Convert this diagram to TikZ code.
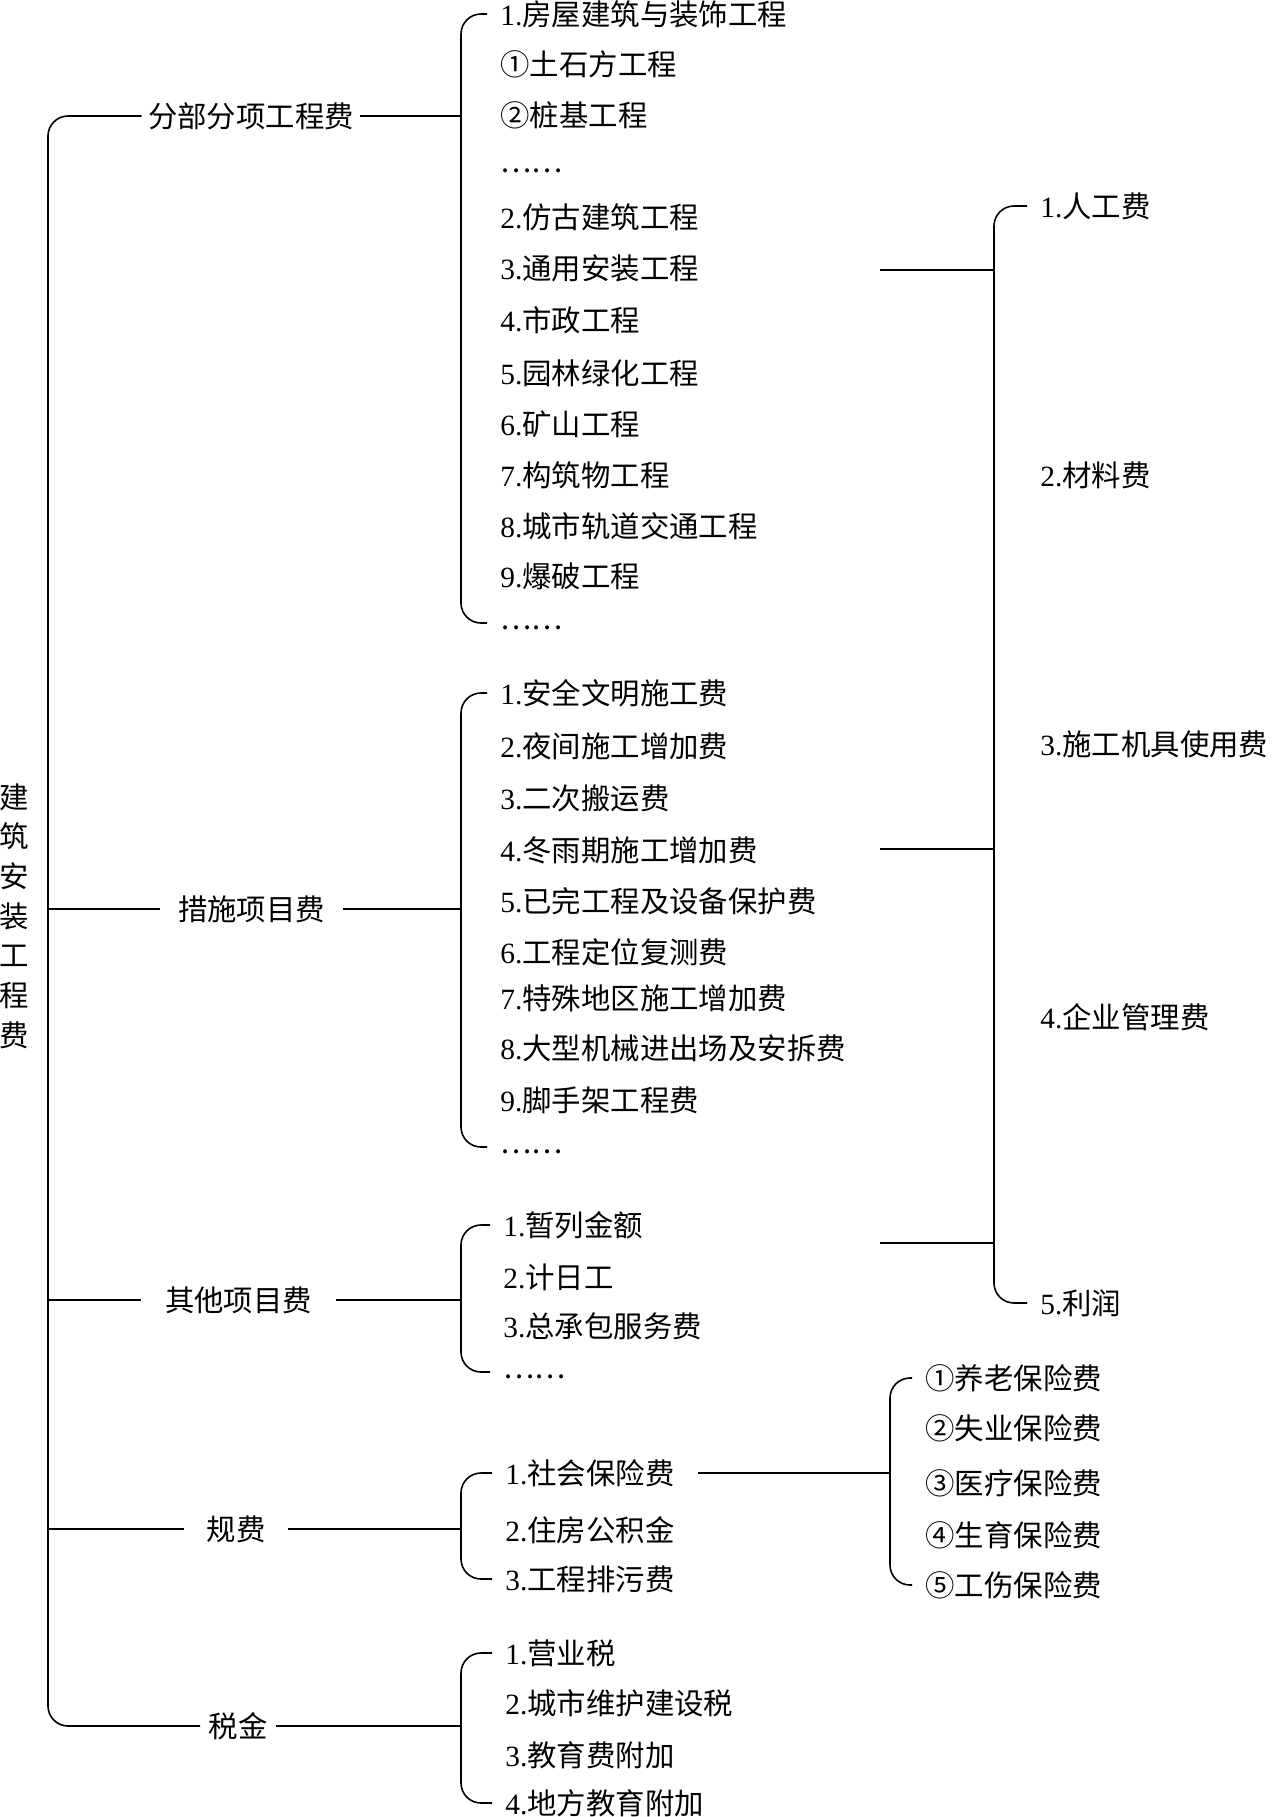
\documentclass[tikz,border=0pt]{standalone}
\usepackage{fontspec}
\setmainfont{Noto Sans CJK SC}
\newfontfamily\latin{Liberation Serif}
\newcommand\nm[1]{{\latin #1}}
\newcommand\etc{\raisebox{2.5pt}{……}}
\tikzset{
  brk/.style={line width=0.8pt, rounded corners=10pt},
  lnk/.style={line width=0.8pt},
  txt/.style={inner ysep=0pt, text height=12.2pt, text depth=1pt, font=\fontsize{14.7pt}{17pt}\selectfont},
  lvl/.style={txt, inner xsep=4pt},
  item/.style={txt, anchor=west, inner xsep=6.5pt},
}
\begin{document}
\begin{tikzpicture}[x=0.5pt,y=-0.5pt]
    \useasboundingbox (0,0) rectangle (1272,1817);
    % bracket axes
    \coordinate (mx) at (48,0);
    \coordinate (ax) at (461,0);
    \coordinate (gx) at (890,0);
    \coordinate (fx) at (994,0);

    \node[align=center, inner sep=0pt, font=\fontsize{14.7pt}{19.85pt}\selectfont] (root) at (14,916) {建\\筑\\安\\装\\工\\程\\费};

    % first level
    \node[lvl, inner xsep=3pt] (fb) at (251,116) {分部分项工程费};
    \node[lvl, inner xsep=9pt] (cs) at (251.5,909) {措施项目费};
    \node[lvl, inner xsep=12pt] (qt) at (238.5,1300) {其他项目费};
    \node[lvl, inner xsep=11pt] (gf) at (236,1529) {规费};
    \node[lvl] (sj) at (238,1726) {税金};
    \draw[brk] (fb.west) -| (mx |- sj.west) -- (sj.west);
    \draw[lnk] (cs.west) -- (cs.west -| mx);
    \draw[lnk] (qt.west) -- (qt.west -| mx);
    \draw[lnk] (gf.west) -- (gf.west -| mx);
    \draw[lnk] (fb.east) -- (fb.east -| ax);
    \draw[lnk] (cs.east) -- (cs.east -| ax);
    \draw[lnk] (qt.east) -- (qt.east -| ax);
    \draw[lnk] (gf.east) -- (gf.east -| ax);
    \draw[lnk] (sj.east) -- (sj.east -| ax);

    % 分部分项工程费
    \node[item] (a1) at (487,14) {\nm{1.}房屋建筑与装饰工程};
    \node[item] (a2) at (487,64) {①土石方工程};
    \node[item] (a3) at (487,115) {②桩基工程};
    \node[item] (a4) at (487,166) {\etc};
    \node[item] (a5) at (487,217) {\nm{2.}仿古建筑工程};
    \node[item] (a6) at (487,268) {\nm{3.}通用安装工程};
    \node[item] (a7) at (487,320) {\nm{4.}市政工程};
    \node[item] (a8) at (487,373) {\nm{5.}园林绿化工程};
    \node[item] (a9) at (487,424) {\nm{6.}矿山工程};
    \node[item] (a10) at (487,475) {\nm{7.}构筑物工程};
    \node[item] (a11) at (487,526) {\nm{8.}城市轨道交通工程};
    \node[item] (a12) at (487,576) {\nm{9.}爆破工程};
    \node[item] (a13) at (487,623) {\etc};
    \draw[brk] (a1.west) -| (ax |- a13.west) -- (a13.west);

    % 措施项目费
    \node[item] (b1) at (487,693) {\nm{1.}安全文明施工费};
    \node[item] (b2) at (487,746) {\nm{2.}夜间施工增加费};
    \node[item] (b3) at (487,798) {\nm{3.}二次搬运费};
    \node[item] (b4) at (487,850) {\nm{4.}冬雨期施工增加费};
    \node[item] (b5) at (487,901) {\nm{5.}已完工程及设备保护费};
    \node[item] (b6) at (487,952) {\nm{6.}工程定位复测费};
    \node[item] (b7) at (487,998) {\nm{7.}特殊地区施工增加费};
    \node[item] (b8) at (487,1048) {\nm{8.}大型机械进出场及安拆费};
    \node[item] (b9) at (487,1100) {\nm{9.}脚手架工程费};
    \node[item] (b10) at (487,1147) {\etc};
    \draw[brk] (b1.west) -| (ax |- b10.west) -- (b10.west);

    % 其他项目费
    \node[item] (c1) at (490,1225) {\nm{1.}暂列金额};
    \node[item] (c2) at (490,1277) {\nm{2.}计日工};
    \node[item] (c3) at (490,1326) {\nm{3.}总承包服务费};
    \node[item] (c4) at (490,1372) {\etc};
    \draw[brk] (c1.west) -| (ax |- c4.west) -- (c4.west);

    % 规费
    \node[item] (d1) at (492,1473) {\nm{1.}社会保险费};
    \node[item] (d2) at (492,1530) {\nm{2.}住房公积金};
    \node[item] (d3) at (492,1579) {\nm{3.}工程排污费};
    \draw[brk] (d1.west) -| (ax |- d3.west) -- (d3.west);

    % 税金
    \node[item] (e1) at (492,1653) {\nm{1.}营业税};
    \node[item] (e2) at (492,1703) {\nm{2.}城市维护建设税};
    \node[item] (e3) at (492,1755) {\nm{3.}教育费附加};
    \node[item] (e4) at (492,1803) {\nm{4.}地方教育附加};
    \draw[brk] (e1.west) -| (ax |- e4.west) -- (e4.west);

    % cost elements
    \node[item] (f1) at (1027,206) {\nm{1.}人工费};
    \node[item] (f2) at (1027,475) {\nm{2.}材料费};
    \node[item] (f3) at (1027,744) {\nm{3.}施工机具使用费};
    \node[item] (f4) at (1027,1017) {\nm{4.}企业管理费};
    \node[item] (f5) at (1027,1303) {\nm{5.}利润};
    \draw[brk] (f1.west) -| (fx |- f5.west) -- (f5.west);
    \coordinate (p1) at (880,270);
    \coordinate (p2) at (880,849);
    \coordinate (p3) at (880,1243);
    \draw[lnk] (p1) -- (p1 -| fx);
    \draw[lnk] (p2) -- (p2 -| fx);
    \draw[lnk] (p3) -- (p3 -| fx);

    % social insurance
    \node[item] (g1) at (912,1378) {①养老保险费};
    \node[item] (g2) at (912,1428) {②失业保险费};
    \node[item] (g3) at (912,1483) {③医疗保险费};
    \node[item] (g4) at (912,1535) {④生育保险费};
    \node[item] (g5) at (912,1585) {⑤工伤保险费};
    \draw[brk] (g1.west) -| (gx |- g5.west) -- (g5.west);
    \draw[lnk] ([xshift=5pt]d1.east) -- (d1.east -| gx);
\end{tikzpicture}
\end{document}
